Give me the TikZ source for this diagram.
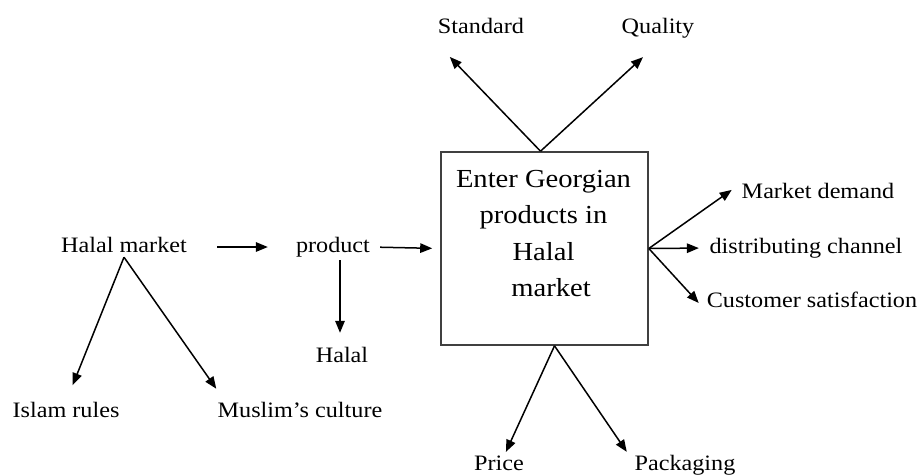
\documentclass[tikz,border=0pt]{standalone}
\usepackage{fontspec}
\setmainfont[FakeStretch=1.1]{Liberation Serif}
\usetikzlibrary{arrows.meta,calc}
\begin{document}
\begin{tikzpicture}[x=1pt,y=-1pt,
  lbl/.style={inner sep=0pt, text height=15pt, text depth=5pt, font=\fontsize{22}{26}\selectfont},
  arr/.style={-{Triangle[length=12pt,width=9.5pt]}, line width=1.5pt},
  mainbox/.style={draw=black!75, line width=1.6pt, minimum width=207pt, minimum height=193pt, inner sep=0pt},
  boxtext/.style={inner sep=0pt, align=center, anchor=north, font=\fontsize{26}{36.3}\selectfont}]
\useasboundingbox (0,0) rectangle (919,475);
\node[mainbox] (box) at (544.5,248.5) {};
\node[boxtext] (boxtxt) at (543.5,170) {Enter Georgian\\products in\\Halal\\\hspace*{15pt}market};
\node[lbl] (hm) at (124,247) {Halal market};
\node[lbl] (prod) at (333,247) {product};
\node[lbl] (hal) at (342,357) {Halal};
\node[lbl] (islam) at (66,412) {Islam rules};
\node[lbl] (mus) at (300,412) {Muslim’s culture};
\node[lbl] (std) at (481,28) {Standard};
\node[lbl] (qual) at (658,28) {Quality};
\node[lbl] (md) at (818,193) {Market demand};
\node[lbl] (dc) at (806,248) {distributing channel};
\node[lbl] (cs) at (812,302) {Customer satisfaction};
\node[lbl] (price) at (499,465) {Price};
\node[lbl] (pack) at (685,465) {Packaging};
\draw[arr, shorten <=30pt, shorten >=28pt] (hm.east) -- (prod.west);
\draw[arr, shorten <=10pt, shorten >=8pt] (prod.east) -- (box.west);
\draw[arr, shorten <=3pt, shorten >=14pt] ([xshift=7pt]prod.south) -- ([xshift=-2pt]hal.north);
\draw[arr, shorten >=18pt] (hm.south) -- (islam.north);
\draw[arr, shorten >=16pt] (hm.south) -- ([xshift=8pt]mus.north west);
\draw[arr, shorten >=26pt] ([xshift=-4pt]box.north) -- ([xshift=-6pt]std.south west);
\draw[arr, shorten >=28pt] ([xshift=-4pt]box.north) -- ([xshift=5.6pt]qual.south);
\draw[arr, shorten >=12pt] (box.east) -- ([yshift=10pt]md.west);
\draw[arr, shorten >=10.5pt] (box.east) -- (dc.west);
\draw[arr, shorten >=11.7pt] (box.east) -- ([yshift=-9.6pt]cs.west);
\draw[arr, shorten >=3.2pt] ([xshift=10pt]box.south) -- ([xshift=5.6pt]price.north);
\draw[arr, shorten >=3.6pt] ([xshift=10pt]box.south) -- ([xshift=-5.6pt]pack.north west);
\end{tikzpicture}
\end{document}
